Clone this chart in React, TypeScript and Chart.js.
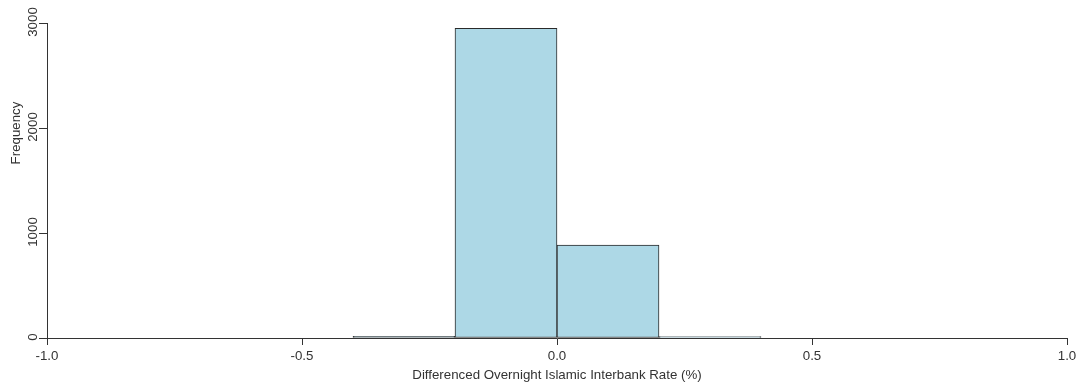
import React, { useEffect, useRef } from "react";
import { Chart, registerables } from "chart.js";

Chart.register(...registerables);

const binCenters = [-0.3, -0.1, 0.1, 0.3];
const frequencies = [15, 2950, 885, 13];
const xTickValues = [-1, -0.5, 0, 0.5, 1];
const yTickValues = [0, 1000, 2000, 3000];
const xTitle = "Differenced Overnight Islamic Interbank Rate (%)";
const yTitle = "Frequency";

const FONT = "'Liberation Sans', Arial, Helvetica, sans-serif";
const INK = "#333333";
const FS = 13.3;

const rAxisText = {
  id: "rAxisText",
  afterDraw(chart: any) {
    const ctx = chart.ctx;
    const ys = chart.scales.y;
    ctx.save();
    ctx.fillStyle = INK;
    ctx.font = `${FS}px ${FONT}`;
    ctx.textAlign = "center";
    ctx.textBaseline = "middle";
    for (const v of yTickValues) {
      const py = ys.getPixelForValue(v);
      ctx.save();
      ctx.translate(ys.right - 14, py - 1);
      ctx.rotate(-Math.PI / 2);
      ctx.fillText(String(v), 0, 0);
      ctx.restore();
    }
    ctx.save();
    ctx.translate(16, 133);
    ctx.rotate(-Math.PI / 2);
    ctx.fillText(yTitle, 0, 0);
    ctx.restore();
    ctx.restore();
  },
};

export default function App() {
  const ref = useRef<HTMLCanvasElement | null>(null);

  useEffect(() => {
    document.body.style.margin = "0";
    const canvas = ref.current;
    if (!canvas) return;
    const chart = new Chart(canvas, {
      type: "bar",
      data: {
        datasets: [
          {
            data: binCenters.map((c, i) => ({ x: c, y: frequencies[i] })),
            backgroundColor: "#ADD8E6",
            borderColor: "#2a2a2a",
            borderWidth: 1,
            barPercentage: 1,
            categoryPercentage: 1,
            borderSkipped: false,
          },
        ],
      },
      options: {
        responsive: false,
        animation: false,
        devicePixelRatio: 1,
        layout: { padding: { top: 23, right: 13, left: 0, bottom: 0 } },
        plugins: {
          legend: { display: false },
          tooltip: { enabled: false },
        },
        scales: {
          x: {
            type: "linear",
            min: -1,
            max: 1,
            offset: false,
            afterFit: (s: any) => {
              s.height = 47;
            },
            afterBuildTicks: (s: any) => {
              s.ticks = xTickValues.map((v) => ({ value: v }));
            },
            ticks: {
              color: INK,
              font: { family: FONT, size: FS },
              padding: 3,
              maxRotation: 0,
              minRotation: 0,
              callback: (v: any) => Number(v).toFixed(1),
            },
            grid: {
              display: true,
              offset: false,
              drawOnChartArea: false,
              drawTicks: true,
              tickLength: 7,
              color: INK,
            },
            border: { display: true, color: INK, width: 1 },
            title: {
              display: true,
              text: xTitle,
              color: INK,
              font: { family: FONT, size: FS },
              padding: { top: 0, bottom: 2 },
            },
          },
          y: {
            type: "linear",
            min: 0,
            max: 3000,
            afterFit: (s: any) => {
              s.width = 47;
            },
            afterBuildTicks: (s: any) => {
              s.ticks = yTickValues.map((v) => ({ value: v }));
            },
            ticks: { display: false },
            grid: {
              display: true,
              offset: false,
              drawOnChartArea: false,
              drawTicks: true,
              tickLength: 8,
              color: INK,
            },
            border: { display: true, color: INK, width: 1 },
          },
        },
      },
      plugins: [rAxisText],
    });
    return () => chart.destroy();
  }, []);

  return (
    <div style={{ width: 1080, height: 385, background: "#fff" }}>
      <canvas ref={ref} width={1080} height={385} />
    </div>
  );
}
